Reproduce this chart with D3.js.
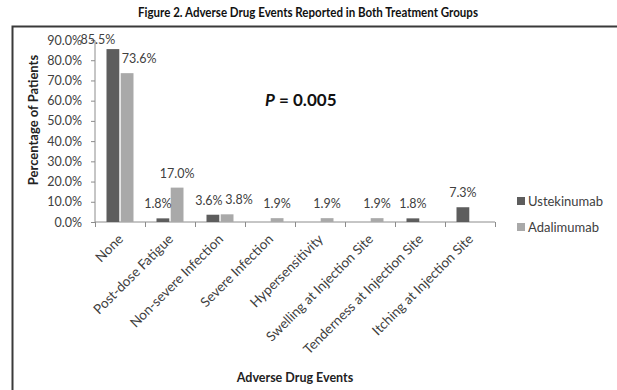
<!DOCTYPE html>
<html><head><meta charset="utf-8">
<script src="https://cdn.jsdelivr.net/npm/d3@7/dist/d3.min.js"></script>
<style>html,body{margin:0;padding:0;background:#fff;}svg{display:block;font-family:Lato,"Open Sans",sans-serif;}</style>
</head><body><svg id="c" width="617" height="390"></svg>
<script>
const categories = ["None","Post-dose Fatigue","Non-severe Infection","Severe Infection","Hypersensitivity","Swelling at Injection Site","Tenderness at Injection Site","Itching at Injection Site"];
const seriesNames = ["Ustekinumab","Adalimumab"];
const ustekinumab = [85.5, 1.8, 3.6, 0, 0, 0, 1.8, 7.3];
const adalimumab = [73.6, 17.0, 3.8, 1.9, 1.9, 1.9, 0, 0];
const yTicks = [0,10,20,30,40,50,60,70,80,90];
const colors = ["#5d5d5d","#a9a9a9"];

const svg = d3.select("#c");
// frame
svg.append("path").attr("d","M12.5,390 L12.5,26.5 L617,26.5").attr("fill","none").attr("stroke","#3a3a3a").attr("stroke-width",2);

svg.append("text").attr("x",308).attr("y",17).attr("text-anchor","middle")
  .attr("font-size",13).attr("font-weight","bold").attr("fill","#111")
  .attr("textLength",340).attr("lengthAdjust","spacingAndGlyphs")
  .text("Figure 2. Adverse Drug Events Reported in Both Treatment Groups");

const x0 = d3.scaleBand().domain(categories).range([95,495]).paddingInner(0.46).paddingOuter(0.23);
const x1 = d3.scaleBand().domain(seriesNames).range([0,x0.bandwidth()]).paddingInner(0.1);
const y = d3.scaleLinear().domain([0,90]).range([222,40]);

// y axis
const ya = svg.append("g").attr("transform","translate(95,0)")
  .call(d3.axisLeft(y).tickValues(yTicks).tickSize(4).tickPadding(9).tickFormat(d=>d.toFixed(1)+"%"));
ya.selectAll("path,line").attr("stroke","#8c8c8c");
ya.select(".domain").attr("d","M0,40.5V222.5");
ya.selectAll("text").attr("font-size",12.5).attr("fill","#404040").attr("font-family","Lato,sans-serif");

// x axis
const xa = svg.append("g").attr("transform","translate(0,222)");
xa.append("line").attr("x1",95).attr("x2",495).attr("stroke","#8c8c8c");
const step = x0.step();
xa.selectAll("line.t").data(d3.range(categories.length+1)).enter().append("line")
  .attr("x1",i=>95+i*step+0.5).attr("x2",i=>95+i*step+0.5).attr("y1",0).attr("y2",5).attr("stroke","#8c8c8c");
xa.selectAll("text.c").data(categories).enter().append("text")
  .attr("transform",d=>`translate(${x0(d)+x0.bandwidth()/2+4},${18}) rotate(-45)`)
  .attr("text-anchor","end").attr("font-size",13.5).attr("fill","#404040").text(d=>d);

// bars
const data = categories.map((c,i)=>({c, v:[ustekinumab[i], adalimumab[i]]}));
const g = svg.append("g");
data.forEach(d=>{
  d.v.forEach((v,j)=>{
    if(v<=0) return;
    g.append("rect").attr("x",x0(d.c)+x1(seriesNames[j])).attr("width",x1.bandwidth())
      .attr("y",y(v)).attr("height",y(0)-y(v)).attr("fill",colors[j]);
  });
});
// labels with small nudges to avoid overlap (as in original)
const nudge = {"0-0":[-15,5],"0-1":[12,0],"1-0":[-5,0],"2-0":[-4,0],"2-1":[12,0]};
data.forEach((d,i)=>{
  d.v.forEach((v,j)=>{
    if(v<=0) return;
    const n = nudge[i+"-"+j]||[0,0];
    let ty = y(v)-10;
    if(ty<30) ty=30;
    svg.append("text").attr("x",x0(d.c)+x1(seriesNames[j])+x1.bandwidth()/2+n[0])
      .attr("y",ty+n[1]).attr("text-anchor","middle").attr("font-size",12.5).attr("fill","#404040")
      .text(v.toFixed(1)+"%");
  });
});

// P value
const pt = svg.append("text").attr("x",265).attr("y",106).attr("font-size",17).attr("font-weight","bold").attr("fill","#111");
pt.append("tspan").attr("font-style","italic").text("P");
pt.append("tspan").text(" = 0.005");

// axis titles
svg.append("text").attr("transform","translate(38,120) rotate(-90)").attr("text-anchor","middle")
  .attr("font-size",13).attr("font-weight","bold").attr("fill","#222").text("Percentage of Patients");
svg.append("text").attr("x",295).attr("y",382).attr("text-anchor","middle")
  .attr("font-size",12.5).attr("font-weight","bold").attr("fill","#222").text("Adverse Drug Events");

// legend
const lg = svg.append("g").attr("transform","translate(517,0)");
seriesNames.forEach((s,j)=>{
  const yy = j===0?201:227;
  lg.append("rect").attr("x",0).attr("y",yy-4).attr("width",8).attr("height",8).attr("fill",colors[j]);
  lg.append("text").attr("x",11).attr("y",yy+4.5).attr("font-size",13).attr("fill","#404040").text(s);
});
</script></body></html>
